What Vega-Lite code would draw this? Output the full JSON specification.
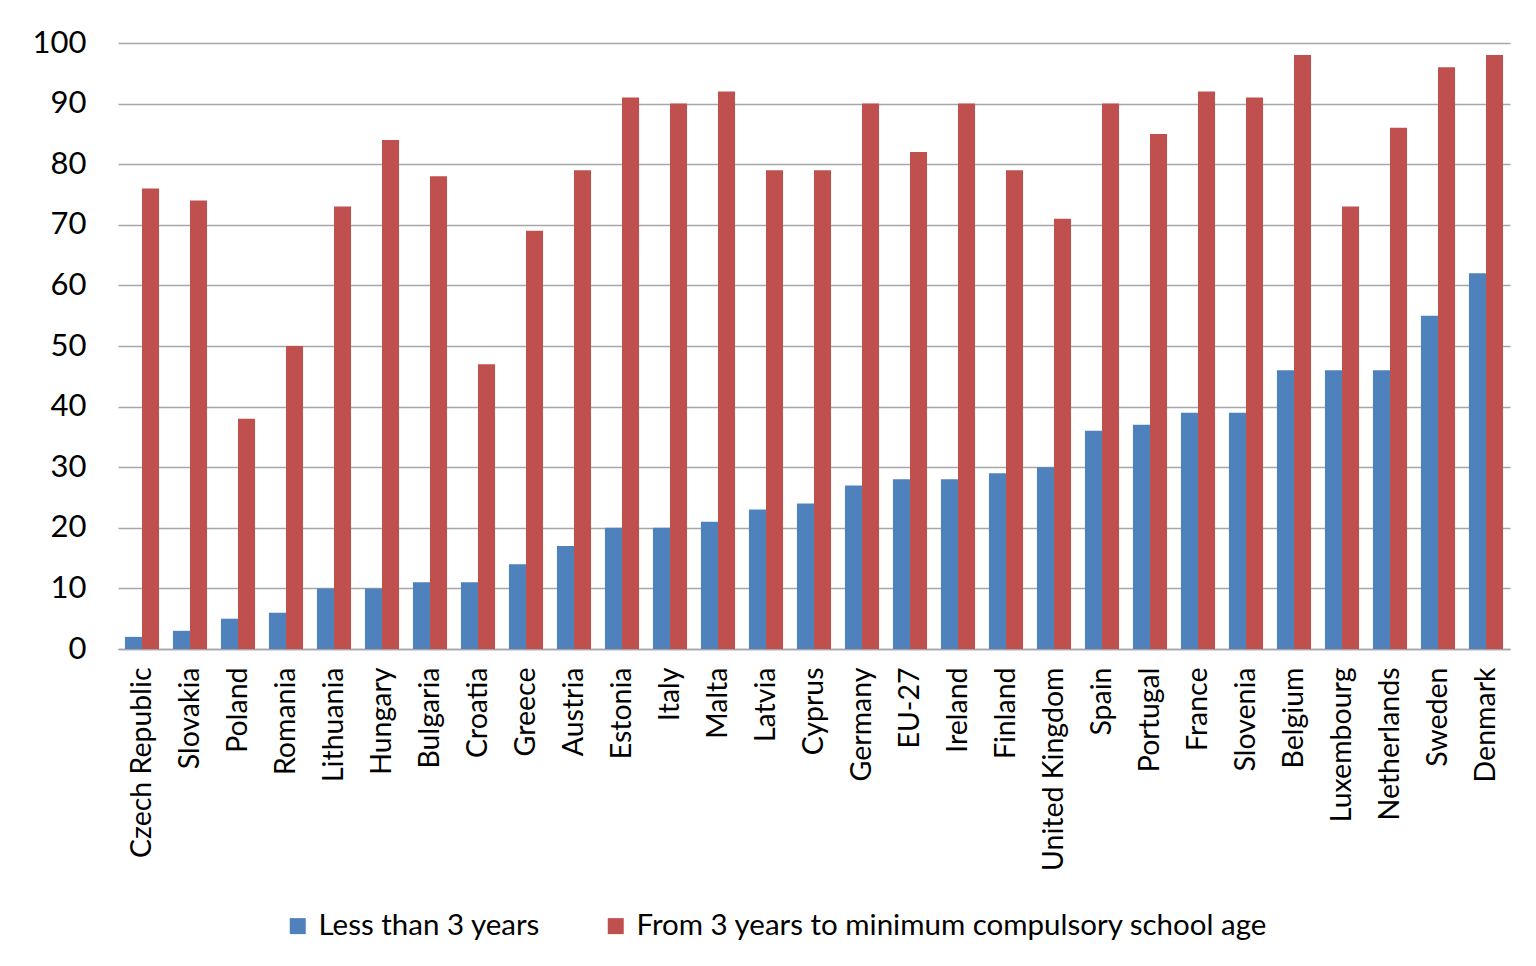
{
  "$schema": "https://vega.github.io/schema/vega-lite/v6.json",
  "autosize": {"type": "none"},
  "padding": {"left": 118, "top": 43, "right": 26, "bottom": 317},
  "width": 1392,
  "height": 606,
  "background": "white",
  "data": {"values": [
    {"country": "Czech Republic", "series": "Less than 3 years", "value": 2},
    {"country": "Czech Republic", "series": "From 3 years to minimum compulsory school age", "value": 76},
    {"country": "Slovakia", "series": "Less than 3 years", "value": 3},
    {"country": "Slovakia", "series": "From 3 years to minimum compulsory school age", "value": 74},
    {"country": "Poland", "series": "Less than 3 years", "value": 5},
    {"country": "Poland", "series": "From 3 years to minimum compulsory school age", "value": 38},
    {"country": "Romania", "series": "Less than 3 years", "value": 6},
    {"country": "Romania", "series": "From 3 years to minimum compulsory school age", "value": 50},
    {"country": "Lithuania", "series": "Less than 3 years", "value": 10},
    {"country": "Lithuania", "series": "From 3 years to minimum compulsory school age", "value": 73},
    {"country": "Hungary", "series": "Less than 3 years", "value": 10},
    {"country": "Hungary", "series": "From 3 years to minimum compulsory school age", "value": 84},
    {"country": "Bulgaria", "series": "Less than 3 years", "value": 11},
    {"country": "Bulgaria", "series": "From 3 years to minimum compulsory school age", "value": 78},
    {"country": "Croatia", "series": "Less than 3 years", "value": 11},
    {"country": "Croatia", "series": "From 3 years to minimum compulsory school age", "value": 47},
    {"country": "Greece", "series": "Less than 3 years", "value": 14},
    {"country": "Greece", "series": "From 3 years to minimum compulsory school age", "value": 69},
    {"country": "Austria", "series": "Less than 3 years", "value": 17},
    {"country": "Austria", "series": "From 3 years to minimum compulsory school age", "value": 79},
    {"country": "Estonia", "series": "Less than 3 years", "value": 20},
    {"country": "Estonia", "series": "From 3 years to minimum compulsory school age", "value": 91},
    {"country": "Italy", "series": "Less than 3 years", "value": 20},
    {"country": "Italy", "series": "From 3 years to minimum compulsory school age", "value": 90},
    {"country": "Malta", "series": "Less than 3 years", "value": 21},
    {"country": "Malta", "series": "From 3 years to minimum compulsory school age", "value": 92},
    {"country": "Latvia", "series": "Less than 3 years", "value": 23},
    {"country": "Latvia", "series": "From 3 years to minimum compulsory school age", "value": 79},
    {"country": "Cyprus", "series": "Less than 3 years", "value": 24},
    {"country": "Cyprus", "series": "From 3 years to minimum compulsory school age", "value": 79},
    {"country": "Germany", "series": "Less than 3 years", "value": 27},
    {"country": "Germany", "series": "From 3 years to minimum compulsory school age", "value": 90},
    {"country": "EU-27", "series": "Less than 3 years", "value": 28},
    {"country": "EU-27", "series": "From 3 years to minimum compulsory school age", "value": 82},
    {"country": "Ireland", "series": "Less than 3 years", "value": 28},
    {"country": "Ireland", "series": "From 3 years to minimum compulsory school age", "value": 90},
    {"country": "Finland", "series": "Less than 3 years", "value": 29},
    {"country": "Finland", "series": "From 3 years to minimum compulsory school age", "value": 79},
    {"country": "United Kingdom", "series": "Less than 3 years", "value": 30},
    {"country": "United Kingdom", "series": "From 3 years to minimum compulsory school age", "value": 71},
    {"country": "Spain", "series": "Less than 3 years", "value": 36},
    {"country": "Spain", "series": "From 3 years to minimum compulsory school age", "value": 90},
    {"country": "Portugal", "series": "Less than 3 years", "value": 37},
    {"country": "Portugal", "series": "From 3 years to minimum compulsory school age", "value": 85},
    {"country": "France", "series": "Less than 3 years", "value": 39},
    {"country": "France", "series": "From 3 years to minimum compulsory school age", "value": 92},
    {"country": "Slovenia", "series": "Less than 3 years", "value": 39},
    {"country": "Slovenia", "series": "From 3 years to minimum compulsory school age", "value": 91},
    {"country": "Belgium", "series": "Less than 3 years", "value": 46},
    {"country": "Belgium", "series": "From 3 years to minimum compulsory school age", "value": 98},
    {"country": "Luxembourg", "series": "Less than 3 years", "value": 46},
    {"country": "Luxembourg", "series": "From 3 years to minimum compulsory school age", "value": 73},
    {"country": "Netherlands", "series": "Less than 3 years", "value": 46},
    {"country": "Netherlands", "series": "From 3 years to minimum compulsory school age", "value": 86},
    {"country": "Sweden", "series": "Less than 3 years", "value": 55},
    {"country": "Sweden", "series": "From 3 years to minimum compulsory school age", "value": 96},
    {"country": "Denmark", "series": "Less than 3 years", "value": 62},
    {"country": "Denmark", "series": "From 3 years to minimum compulsory school age", "value": 98}
  ]},
  "mark": {"type": "bar"},
  "encoding": {
    "x": {
      "field": "country", "type": "nominal", "sort": null,
      "scale": {"paddingInner": 0.29, "paddingOuter": 0.145},
      "axis": {
        "title": null, "labelAngle": -90, "labelFontSize": 28.5, "labelFont": "Lato",
        "labelColor": "#000000", "labelPadding": 18, "ticks": false,
        "domainColor": "#A6A6A6", "domainWidth": 1.5, "labelLimit": 400
      }
    },
    "xOffset": {"field": "series", "type": "nominal", "sort": ["Less than 3 years", "From 3 years to minimum compulsory school age"]},
    "y": {
      "field": "value", "type": "quantitative",
      "scale": {"domain": [0, 100], "nice": false},
      "axis": {
        "title": null, "values": [0, 10, 20, 30, 40, 50, 60, 70, 80, 90, 100],
        "labelFontSize": 31, "labelFont": "Lato", "labelColor": "#000000",
        "labelPadding": 32, "ticks": false, "domain": false,
        "gridColor": "#A6A6A6", "gridWidth": 1.5
      }
    },
    "color": {
      "field": "series", "type": "nominal",
      "sort": ["Less than 3 years", "From 3 years to minimum compulsory school age"],
      "scale": {"range": ["#4F81BD", "#C0504D"]},
      "legend": {
        "title": null, "orient": "none", "direction": "horizontal",
        "legendX": 165, "legendY": 868,
        "symbolType": "square", "symbolSize": 256, "symbolStrokeWidth": 0,
        "labelFontSize": 29.5, "labelFont": "Lato", "labelColor": "#000000",
        "labelLimit": 800, "columnPadding": 60, "labelOffset": 6
      }
    }
  },
  "config": {"view": {"stroke": null}}
}
